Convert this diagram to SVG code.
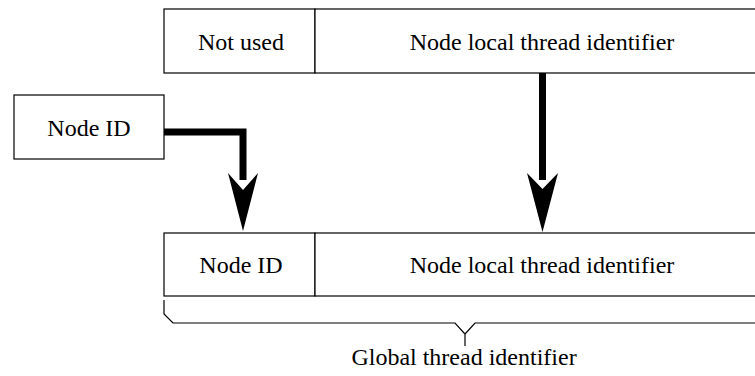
<svg xmlns="http://www.w3.org/2000/svg" width="755" height="376" viewBox="0 0 755 376">
  <style>
    .box { fill: #fff; stroke: #000; stroke-width: 1.2; }
    .lbl { font-family: "Liberation Serif", "Times New Roman", serif; font-size: 24px; fill: #000; text-anchor: middle; }
    .wire { fill: none; stroke: #000; stroke-width: 7; stroke-linejoin: miter; }
    .head { fill: #000; stroke: none; }
    .brace { fill: none; stroke: #000; stroke-width: 1.2; }
  </style>

  <!-- upper word: unused bits + local thread id -->
  <g id="not-used">
    <rect class="box" x="164" y="9" width="151" height="64"/>
    <text class="lbl" x="241" y="50">Not used</text>
  </g>
  <g id="local-id-src">
    <rect class="box" x="315" y="9" width="460" height="64"/>
    <text class="lbl" x="542" y="50">Node local thread identifier</text>
  </g>

  <!-- node id input -->
  <g id="node-id-src">
    <rect class="box" x="14" y="95" width="150" height="64"/>
    <text class="lbl" x="89" y="136">Node ID</text>
  </g>

  <!-- resulting global id word -->
  <g id="node-id-dst">
    <rect class="box" x="164" y="233" width="151" height="63"/>
    <text class="lbl" x="241" y="273">Node ID</text>
  </g>
  <g id="local-id-dst">
    <rect class="box" x="315" y="233" width="460" height="63"/>
    <text class="lbl" x="542" y="273">Node local thread identifier</text>
  </g>

  <!-- connectors -->
  <g id="connectors">
    <path class="wire" d="M164,132 H243 V180"/>
    <path class="head" d="M228,173 L243,190 L258,173 L243,231 Z"/>
    <path class="wire" d="M542.5,73 V180"/>
    <path class="head" d="M527,173 L542.5,189 L558,173 L542.5,232 Z"/>
  </g>

  <!-- brace under the global id -->
  <g id="global-brace">
    <path class="brace" d="M164,300 V314 L173,323 H455 L465,334 V346 M465,334 L475,323 H755"/>
    <text class="lbl" x="464" y="365">Global thread identifier</text>
  </g>
</svg>
